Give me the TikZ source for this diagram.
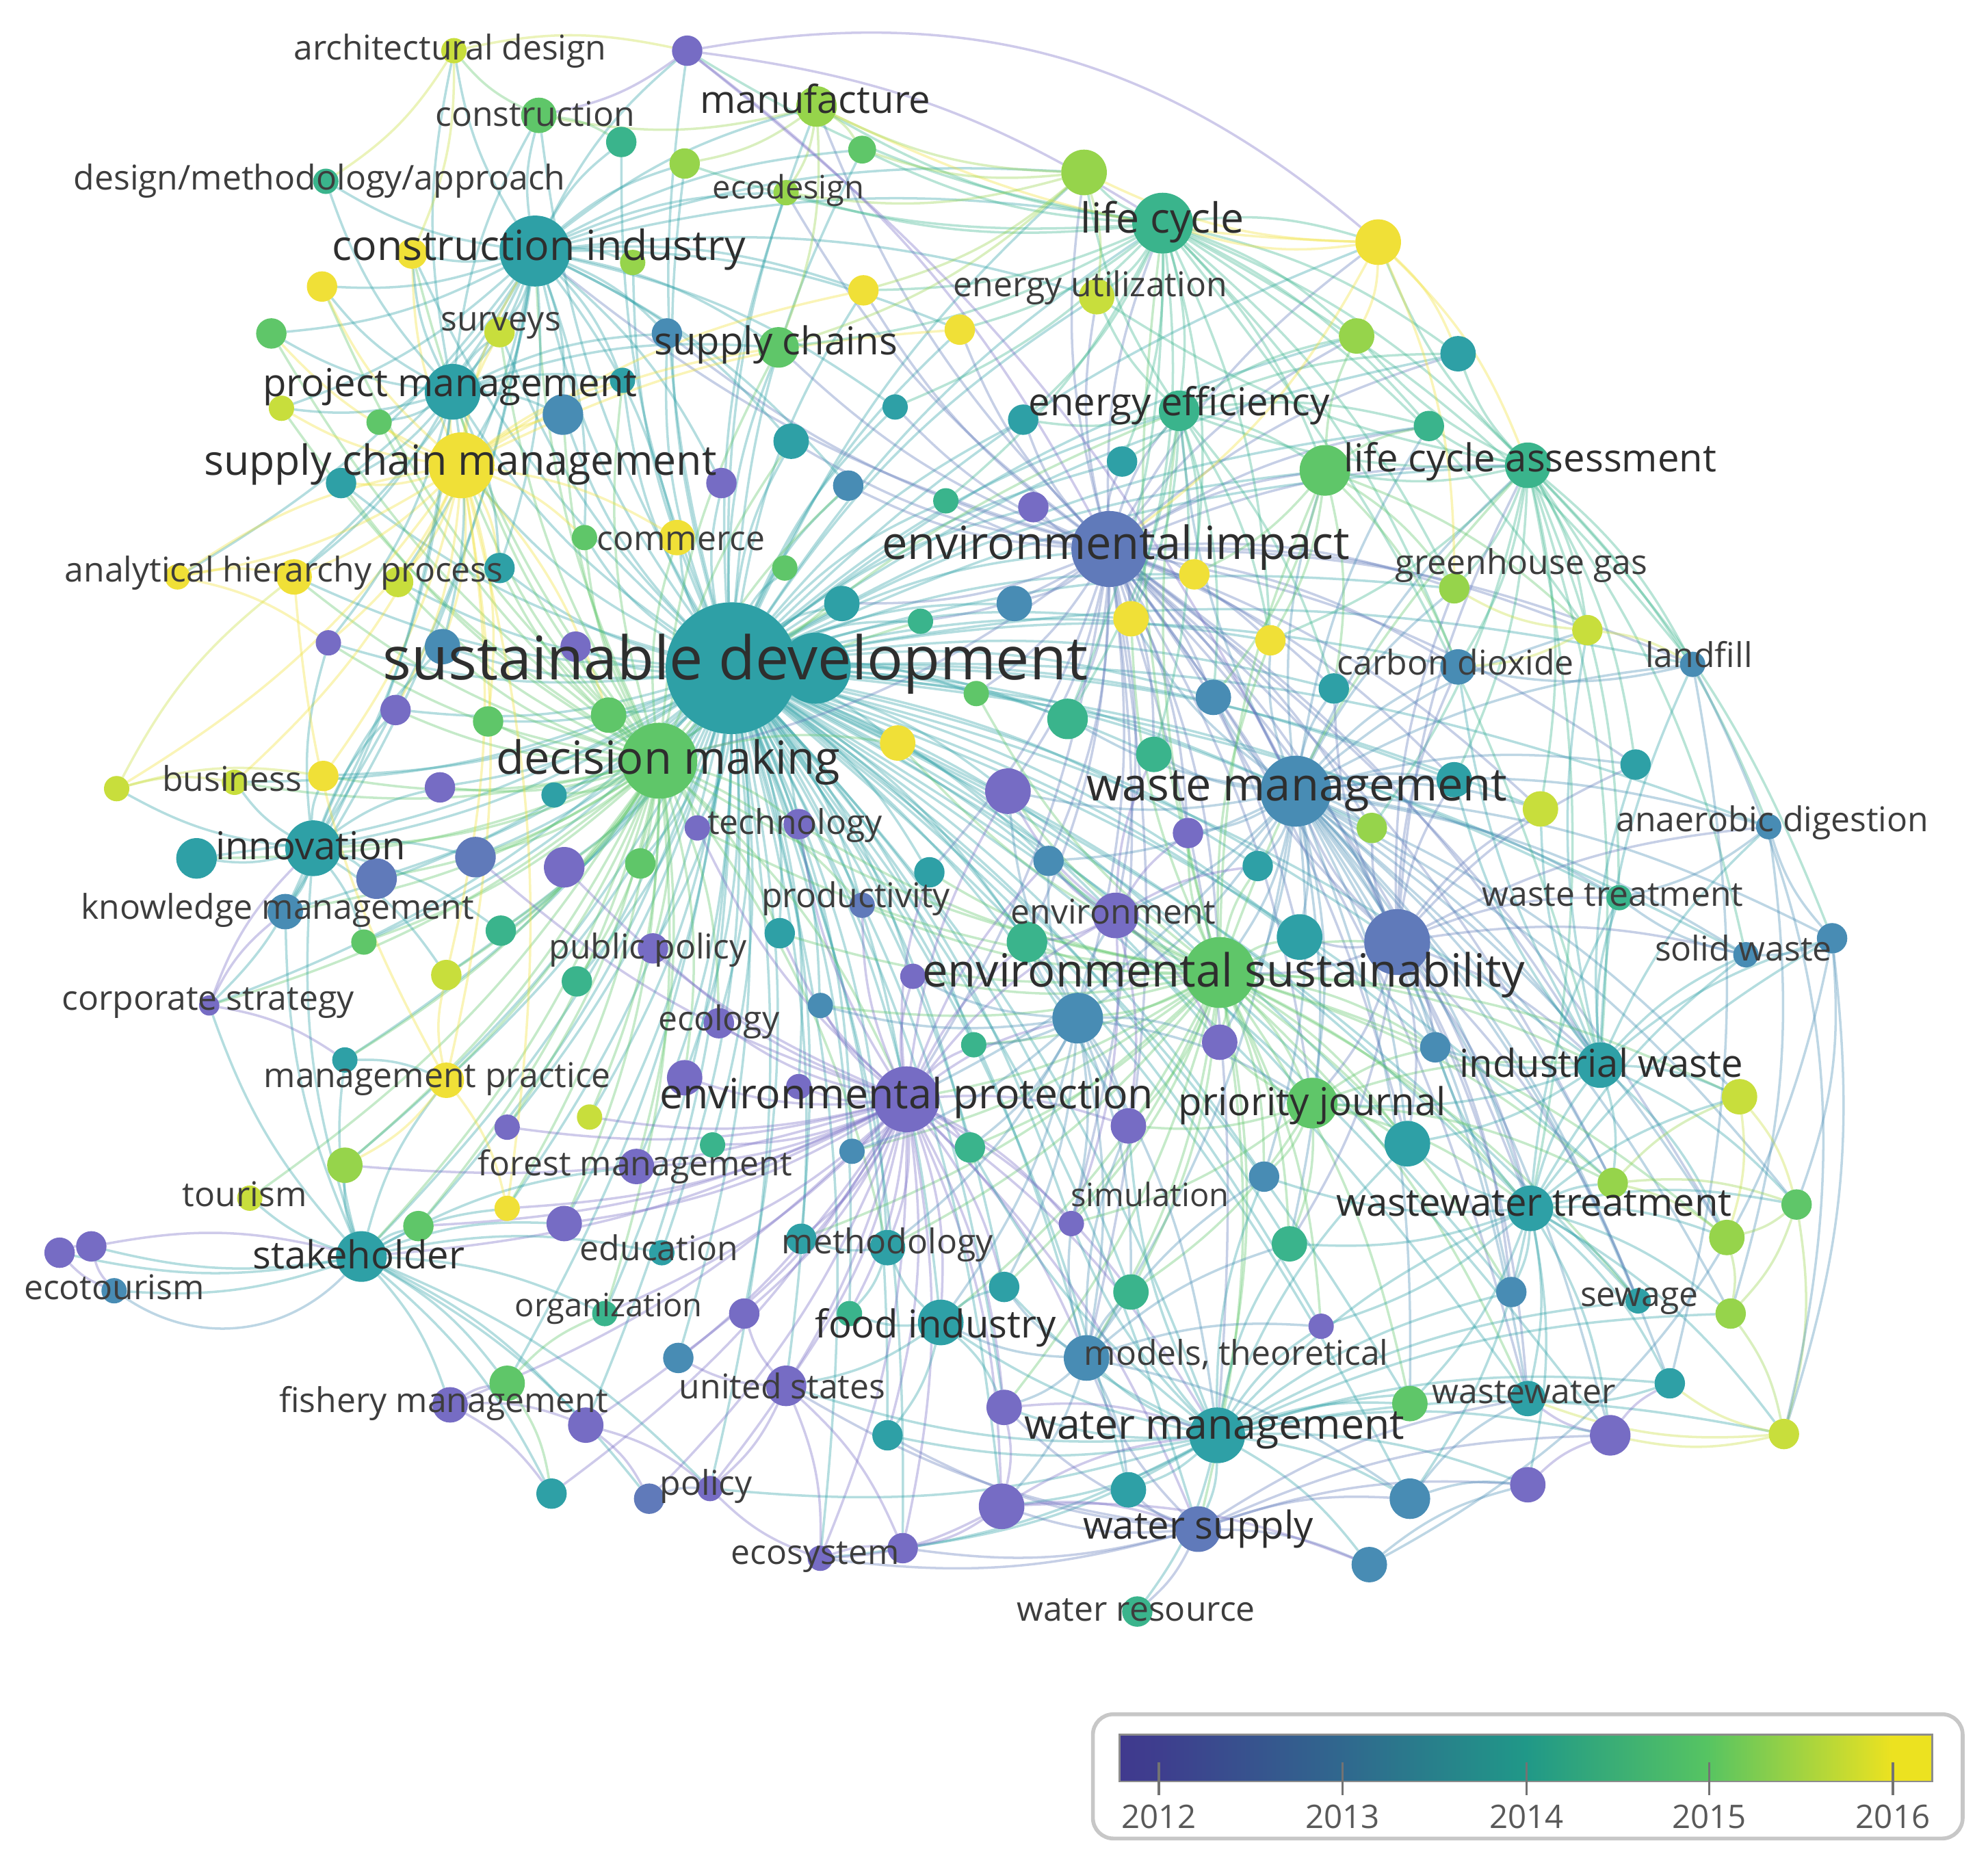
\documentclass[tikz,border=0pt]{standalone}
\usepackage{fontspec}
\setmainfont{Open Sans}
\pgfdeclarelayer{bg}
\pgfsetlayers{bg,main}
\definecolor{cA}{RGB}{118,108,196}
\definecolor{cB}{RGB}{96,122,186}
\definecolor{cC}{RGB}{72,140,180}
\definecolor{cD}{RGB}{46,160,166}
\definecolor{cE}{RGB}{58,180,140}
\definecolor{cF}{RGB}{95,198,105}
\definecolor{cG}{RGB}{150,212,75}
\definecolor{cH}{RGB}{200,222,60}
\definecolor{cI}{RGB}{240,224,55}
\definecolor{lg0}{RGB}{64,58,142}
\definecolor{lg1}{RGB}{62,62,142}
\definecolor{lg2}{RGB}{48,104,142}
\definecolor{lg3}{RGB}{32,152,136}
\definecolor{lg4}{RGB}{86,196,98}
\definecolor{lg5}{RGB}{236,226,32}
\pgfdeclarehorizontalshading{legbar}{100bp}{color(0bp)=(lg0); color(25bp)=(lg0); color(27.5bp)=(lg1); color(38.75bp)=(lg2); color(50bp)=(lg3); color(61.15bp)=(lg4); color(72.5bp)=(lg5); color(75bp)=(lg5); color(100bp)=(lg5)}
\newcommand\fsz[1]{\fontsize{#1}{#1}\selectfont}
\newcommand\kw[5]{\node[kwn,fill=#5,minimum size=#4*0.037066cm] (#1) at (#2,#3) {};}
\begin{document}
\begin{tikzpicture}[x=0.018533cm,y=-0.018533cm,
  kwn/.style={circle,inner sep=0pt,outer sep=0pt},
  ed/.style={draw=#1,line width=1pt,draw opacity=0.36},
  lab/.style={inner sep=0pt,text=black!82},
  lxl/.style={lab,font=\fsz{25pt}},
  ll/.style={lab,font=\fsz{19pt}},
  llm/.style={lab,font=\fsz{17.3pt}},
  lm/.style={lab,font=\fsz{16pt}},
  ls/.style={lab,font=\fsz{14.2pt},text=black!76},
  lss/.style={lab,font=\fsz{13.4pt},text=black!76},
  leg/.style={inner sep=0pt,text=black!65,font=\fsz{13.5pt}}]
\useasboundingbox (0,0) rectangle (1568,1472);
% ---------- keyword circles ----------
\kw{ad}{358}{40}{10}{cH}
\kw{p1}{542}{40}{12}{cA}
\kw{con}{425}{91}{14}{cF}
\kw{t1}{490}{112}{12}{cE}
\kw{l1}{540}{129}{12}{cG}
\kw{man}{644}{84}{16}{cG}
\kw{g1}{680}{118}{11}{cF}
\kw{eco}{620}{152}{10}{cG}
\kw{dma}{257}{143}{10}{cE}
\kw{ci}{422}{198}{28}{cD}
\kw{y1}{325}{200}{12}{cI}
\kw{y2}{254}{226}{12}{cI}
\kw{g2}{499}{207}{10}{cG}
\kw{y3}{681}{229}{12}{cI}
\kw{y4}{757}{260}{12}{cI}
\kw{g3}{214}{263}{12}{cF}
\kw{sur}{394}{262}{12}{cH}
\kw{b1}{526}{263}{12}{cC}
\kw{sc}{614}{274}{16}{cF}
\kw{pm}{357}{309}{22}{cD}
\kw{l2}{222}{322}{10}{cH}
\kw{g4}{299}{333}{10}{cF}
\kw{b2}{444}{327}{16}{cC}
\kw{t2}{491}{300}{10}{cD}
\kw{scm}{364}{367}{26}{cI}
\kw{t3}{269}{381}{12}{cD}
\kw{p2}{569}{381}{12}{cA}
\kw{com}{534}{424}{14}{cI}
\kw{g5}{461}{424}{10}{cF}
\kw{y5}{140}{455}{10}{cI}
\kw{ahp}{232}{455}{14}{cI}
\kw{l3}{314}{459}{12}{cH}
\kw{t4}{394}{448}{12}{cD}
\kw{t5}{624}{348}{14}{cD}
\kw{t6}{669}{383}{12}{cC}
\kw{t7}{706}{321}{10}{cD}
\kw{t8}{746}{395}{10}{cE}
\kw{g6}{619}{448}{10}{cF}
\kw{t9}{664}{476}{14}{cD}
\kw{t10}{726}{490}{10}{cE}
\kw{p3}{259}{507}{10}{cA}
\kw{b3}{349}{510}{14}{cC}
\kw{p4}{454}{510}{12}{cA}
\kw{sd2}{643}{527}{28}{cD}
\kw{sd}{577}{527}{52}{cD}
\kw{y6}{708}{586}{14}{cI}
\kw{l4}{855}{136}{18}{cG}
\kw{lc}{917}{176}{24}{cE}
\kw{eu}{865}{234}{14}{cH}
\kw{y7}{1087}{191}{18}{cI}
\kw{l5}{1070}{265}{14}{cG}
\kw{t11}{1150}{279}{14}{cD}
\kw{ee}{930}{324}{16}{cE}
\kw{t12}{807}{331}{12}{cD}
\kw{t13}{1127}{336}{12}{cE}
\kw{t14}{885}{364}{12}{cD}
\kw{g7}{1045}{371}{20}{cF}
\kw{lca}{1205}{367}{18}{cE}
\kw{p5}{815}{400}{12}{cA}
\kw{ei}{875}{433}{30}{cB}
\kw{y8}{942}{453}{12}{cI}
\kw{ghg}{1147}{464}{12}{cG}
\kw{t15}{800}{476}{14}{cC}
\kw{y9}{892}{488}{14}{cI}
\kw{y10}{1002}{505}{12}{cI}
\kw{l6}{1252}{497}{12}{cH}
\kw{cd}{1150}{526}{14}{cC}
\kw{lf}{1335}{524}{10}{cC}
\kw{p6}{312}{560}{12}{cA}
\kw{g8}{385}{569}{12}{cF}
\kw{g9}{480}{564}{14}{cF}
\kw{dm}{520}{600}{30}{cF}
\kw{l7}{92}{622}{10}{cH}
\kw{y11}{255}{612}{12}{cI}
\kw{bus}{185}{617}{10}{cH}
\kw{p7}{347}{621}{12}{cA}
\kw{t16}{437}{627}{10}{cD}
\kw{tec}{550}{653}{10}{cA}
\kw{p8}{630}{650}{12}{cA}
\kw{t17}{155}{677}{16}{cD}
\kw{inn}{247}{669}{22}{cD}
\kw{b4}{297}{693}{16}{cB}
\kw{b5}{375}{676}{16}{cB}
\kw{p9}{445}{684}{16}{cA}
\kw{g10}{505}{681}{12}{cF}
\kw{km}{225}{719}{14}{cC}
\kw{g11}{287}{743}{10}{cF}
\kw{g12}{395}{734}{12}{cE}
\kw{t18}{615}{736}{12}{cD}
\kw{b6}{680}{714}{10}{cB}
\kw{pp}{515}{748}{12}{cA}
\kw{l8}{352}{769}{12}{cH}
\kw{t19}{455}{774}{12}{cE}
\kw{cs}{165}{793}{8}{cA}
\kw{b7}{647}{793}{10}{cC}
\kw{p10}{720}{770}{10}{cA}
\kw{ecl}{567}{807}{12}{cA}
\kw{t20}{272}{836}{10}{cD}
\kw{mp}{352}{852}{14}{cI}
\kw{p11}{540}{850}{14}{cA}
\kw{ep}{715}{867}{26}{cA}
\kw{p12}{630}{857}{10}{cA}
\kw{p13}{400}{889}{10}{cA}
\kw{l9}{465}{881}{10}{cH}
\kw{t21}{562}{903}{10}{cE}
\kw{t22}{672}{908}{10}{cC}
\kw{g13}{765}{905}{12}{cE}
\kw{g14}{272}{919}{14}{cG}
\kw{fm}{502}{920}{14}{cA}
\kw{tou}{197}{945}{10}{cH}
\kw{y12}{400}{953}{10}{cI}
\kw{p14}{445}{965}{14}{cA}
\kw{g15}{330}{967}{12}{cF}
\kw{sh}{285}{991}{20}{cD}
\kw{p15}{47}{988}{12}{cA}
\kw{p16}{72}{983}{12}{cA}
\kw{et}{90}{1018}{10}{cC}
\kw{edu}{522}{988}{10}{cD}
\kw{t23}{632}{977}{12}{cD}
\kw{meth}{700}{984}{14}{cD}
\kw{org}{477}{1036}{10}{cE}
\kw{p17}{587}{1036}{12}{cA}
\kw{g16}{670}{1036}{10}{cE}
\kw{fi}{742}{1043}{18}{cD}
\kw{b8}{957}{550}{14}{cC}
\kw{t24}{1052}{543}{12}{cD}
\kw{g17}{842}{567}{16}{cE}
\kw{g18}{910}{595}{14}{cE}
\kw{wm}{1022}{624}{28}{cC}
\kw{t25}{1147}{615}{14}{cD}
\kw{t26}{1290}{603}{12}{cD}
\kw{p18}{795}{624}{18}{cA}
\kw{l10}{1215}{638}{14}{cH}
\kw{g19}{1082}{653}{12}{cG}
\kw{ad2}{1395}{652}{10}{cC}
\kw{p19}{937}{657}{12}{cA}
\kw{b9}{827}{679}{12}{cC}
\kw{t27}{992}{683}{12}{cD}
\kw{wt}{1277}{708}{10}{cE}
\kw{env}{880}{722}{18}{cA}
\kw{g20}{810}{743}{16}{cE}
\kw{t28}{1025}{739}{18}{cD}
\kw{b10}{1102}{743}{26}{cB}
\kw{es}{962}{767}{28}{cF}
\kw{b11}{1445}{740}{12}{cC}
\kw{sw}{1377}{753}{10}{cC}
\kw{b12}{850}{803}{20}{cC}
\kw{p20}{962}{822}{14}{cA}
\kw{b13}{1132}{826}{12}{cC}
\kw{iw}{1262}{840}{18}{cD}
\kw{l11}{1372}{865}{14}{cH}
\kw{pj}{1035}{870}{20}{cF}
\kw{p21}{890}{888}{14}{cA}
\kw{t29}{1110}{902}{18}{cD}
\kw{b14}{997}{928}{12}{cC}
\kw{sim}{845}{965}{10}{cA}
\kw{wwt}{1207}{953}{18}{cD}
\kw{l12}{1272}{933}{12}{cG}
\kw{g21}{1417}{950}{12}{cF}
\kw{g22}{1362}{976}{14}{cG}
\kw{g23}{1017}{981}{14}{cE}
\kw{g24}{892}{1019}{14}{cE}
\kw{t30}{792}{1015}{12}{cD}
\kw{b15}{1192}{1019}{12}{cC}
\kw{sew}{1292}{1026}{10}{cD}
\kw{l13}{1365}{1036}{12}{cG}
\kw{p22}{1042}{1046}{10}{cA}
\kw{mt}{857}{1071}{18}{cC}
\kw{t31}{1317}{1091}{12}{cD}
\kw{g25}{1112}{1107}{14}{cF}
\kw{ww}{1205}{1103}{14}{cD}
\kw{p23}{792}{1110}{14}{cA}
\kw{wmg}{960}{1132}{22}{cD}
\kw{l14}{1407}{1131}{12}{cH}
\kw{p24}{1270}{1132}{16}{cA}
\kw{t32}{890}{1175}{14}{cD}
\kw{p25}{1205}{1171}{14}{cA}
\kw{b16}{1112}{1182}{16}{cC}
\kw{p26}{790}{1188}{18}{cA}
\kw{ws}{945}{1206}{18}{cB}
\kw{b17}{1080}{1234}{14}{cC}
\kw{wr}{897}{1271}{12}{cE}
\kw{b18}{535}{1071}{12}{cC}
\kw{us}{620}{1093}{16}{cA}
\kw{fsm}{355}{1108}{14}{cA}
\kw{g26}{400}{1091}{14}{cF}
\kw{p27}{462}{1124}{14}{cA}
\kw{t33}{700}{1132}{12}{cD}
\kw{t34}{435}{1178}{12}{cD}
\kw{b19}{512}{1182}{12}{cB}
\kw{pol}{560}{1174}{10}{cA}
\kw{esy}{647}{1229}{10}{cA}
\kw{p28}{712}{1221}{12}{cA}
\kw{g27}{770}{547}{10}{cF}
\kw{t35}{733}{688}{12}{cD}
\kw{g28}{768}{824}{10}{cE}
% ---------- links ----------
\begin{pgfonlayer}{bg}
\foreach \t in {ci,pm,scm,con,man,sc,lc,ee,ei,dm,inn,km,pp,ecl,ep,fm,sh,edu,meth,fi,wm,es,env,pj,iw,wwt,mt,wmg,ws,us,t5,t6,t7,t8,t9,t10,b2,t2,p2,com,g5,t4,b3,p4,p3,p6,g8,g9,y6,p8,tec,b5,p9,g10,t18,b6,b7,p10,p11,p12,t21,t22,g13,p14,t23,p17,g16,b8,t24,g17,g18,p18,b9,g20,b12,p21,lca,cd,y9,y10,t15,p5,t14,t12,y3,y4,b1,eu,l4,eco,g7,t25,l10,g19,t27,t28,b10,p20,t29,b14,g23,g24,t30,p22,p23,p26,t32,sim,g27,t35,g28,mp,l8,t19,g12,b4,t16,ahp,l3,t3,sur,p1,y8,ghg,t13,t11,l5,y7,g1,t1,l1,g2,y1,bus,y11,p7,t17,g11,cs,t20,l9,p13,g14,g15,y12,org,b18,p27,g26,t33,pol,esy,p28,b16,p24,b13,lf,wt,ad2,sw,l12,sew,b15,g25,ww,g6}
  {\draw[ed=cD] (sd) to[bend left=11] (\t);}
\foreach \t in {lc,ee,eu,l4,y7,l5,t11,t12,t13,t14,g7,lca,p5,y8,ghg,t15,y9,y10,l6,cd,lf,wm,es,b10,t28,env,pj,iw,g17,g18,b8,t24,man,eco,sc,y4,y3,t7,dm,ep,wmg,t29,g19,l10,t25,t26,p19,b9,b12,g20,mt,wwt,ww,sim,l12,g22,t8,t10,t9,g27,t35,p18,b1,t5,t6,ci}
  {\draw[ed=cB] (ei) to[bend left=11] (\t);}
\foreach \t in {cd,lf,ad2,wt,sw,b11,t26,l10,t25,g19,iw,b10,t28,es,pj,t29,b13,l11,wwt,sew,l6,ghg,lca,t24,b8,p19,t27,g18,ee,g7,ep,env,b12,p20,ww,g25,mt,b14,l12,g21,g22,l13,b15,t31,p24,g23,g17,p18,b9,y10,y9,t13}
  {\draw[ed=cC] (wm) to[bend left=11] (\t);}
\foreach \t in {env,g20,b12,p20,pj,t29,iw,b13,wwt,g23,g24,mt,wmg,ws,p21,sim,ep,t22,g13,g28,p10,b7,t18,b6,t35,tec,p8,dm,y6,g27,t27,p19,b9,b10,t28,lca,g7,lc,ee,l12,g22,b15,sew,ww,g25,p22,t30,p23,fi,meth,t23,l11,p18,b14,y10,y9}
  {\draw[ed=cF] (es) to[bend left=11] (\t);}
\foreach \t in {ci,pm,scm,ahp,l3,t4,b3,p4,p3,p6,g8,g9,y11,bus,p7,t16,inn,b4,b5,p9,g10,km,g11,g12,pp,l8,t19,mp,t20,p11,ecl,fm,l9,p13,tou,g14,sh,g15,p14,y12,com,g5,t3,sur,l2,g4,b2,t2,sc,y1,y2,g3,ee,ep,y6,t9,t10,meth,org,tec,p8,t18,b6,t17,cs,t5,t6}
  {\draw[ed=cF] (dm) to[bend left=11] (\t);}
\foreach \t in {ad,con,t1,l1,dma,y1,y2,g2,g3,sur,b1,pm,l2,g4,b2,t2,scm,t3,p2,com,g5,man,eco,p1,g1,sc,y3,t5,t6,y5,ahp,l3,t4,inn,km,t7,y4,eu,lc,l4}
  {\draw[ed=cD] (ci) to[bend left=11] (\t);}
\foreach \t in {ahp,y5,l3,t3,t4,g5,com,y2,y1,sur,pm,b2,sc,y11,bus,l7,g4,l2,g3,p3,b3,y3,y4,g9,g8,p6,mp,y12,l8,t2,ci}
  {\draw[ed=cI] (scm) to[bend left=11] (\t);}
\foreach \t in {ad,con,dma,g3,l2,g4,t3,sur,b2,t2,y2,y1,ahp,inn,km,t4,b3,p3,sc,b1}
  {\draw[ed=cD] (pm) to[bend left=11] (\t);}
\foreach \t in {l4,eu,y7,l5,t11,ee,t12,t13,t14,g7,lca,man,eco,g1,l1,y3,y4,sc,p1,t7,y10,ghg,cd,lf,iw,t8,y8,y9,l6,g17}
  {\draw[ed=cE] (lc) to[bend left=11] (\t);}
\foreach \t in {l5,t11,y7,t13,g7,ghg,l6,cd,lf,t26,ad2,wt,b11,sw,iw,ee,eu,y10,l10,t25,g19,wwt}
  {\draw[ed=cE] (lca) to[bend left=11] (\t);}
\foreach \t in {p11,p12,ecl,pp,fm,p13,p14,edu,t21,t22,g13,t23,meth,p17,g16,fi,us,b18,pol,esy,p28,t33,p23,p26,t30,sim,mt,wmg,ws,b12,p21,g24,p10,b7,p8,tec,t18,b6,t35,p18,b9,env,g20,g28,p27,org,fsm,b19,t34,sh,g14,g15,p9,b5,y12,l9}
  {\draw[ed=cA] (ep) to[bend left=11] (\t);}
\foreach \t in {ws,wr,t32,p26,p23,b16,b17,p25,p24,t31,ww,g25,l14,mt,g24,t30,p22,b15,sew,l13,g23,b14,wwt,fi,us,t33,p28,esy,pol,sim,t29,p21,g13}
  {\draw[ed=cD] (wmg) to[bend left=11] (\t);}
\foreach \t in {wr,t32,p26,b16,b17,p25,p24,ww,p28,esy,us,mt,t33,p23}
  {\draw[ed=cB] (ws) to[bend left=11] (\t);}
\foreach \t in {l12,g21,g22,sew,l13,t31,ww,b15,g25,p24,l14,iw,l11,b13,t29,g23,p25,b16,wt,sw,b11,p22,b14}
  {\draw[ed=cD] (wwt) to[bend left=11] (\t);}
\foreach \t in {l11,b13,t29,l12,g21,wt,sw,b11,ad2,t26,l6,cd,lf,g22,pj,t25,l10}
  {\draw[ed=cD] (iw) to[bend left=11] (\t);}
\foreach \t in {p15,p16,et,tou,g14,g15,y12,p14,fm,t34,fsm,g26,org,edu,p27,b19,pol,mp,t20,cs,km,inn}
  {\draw[ed=cD] (sh) to[bend left=11] (\t);}
\foreach \t in {t17,km,b4,b5,bus,l7,y11,p7,g11,cs,p6,p3,b3,g12,l8}
  {\draw[ed=cD] (inn) to[bend left=11] (\t);}
\foreach \t in {sim,g24,t30,p21,p22,b14,g23,t32,p23,p26,fi,b16}
  {\draw[ed=cC] (mt) to[bend left=11] (\t);}
\foreach \t in {t29,b14,g23,p21,p20,sim,g24,b13,wwt,l12,iw}
  {\draw[ed=cF] (pj) to[bend left=11] (\t);}
\foreach \t in {wm,es,t28,iw,b13,t29,pj,wwt,t25,l10,g19,t26,wt,sw,ad2,cd,lca,ghg,t24,b8,g23,b15,sew,ww}
  {\draw[ed=cB] (b10) to[bend left=11] (\t);}
\foreach \t in {env,g20,p20,pj,p21,sim,t22,g13,g28,b7,p10,mt,t30,g24,wmg,fi,meth,b9,p18}
  {\draw[ed=cC] (b12) to[bend left=11] (\t);}
\foreach \t in {l4,eu,t12,t14,g7,t13,l5,t11,y8,y9,y10,g17,b8,t24,g18}
  {\draw[ed=cE] (ee) to[bend left=11] (\t);}
\foreach \t in {l5,t13,y10,ghg,cd,l6,t24,y8,b8}
  {\draw[ed=cF] (g7) to[bend left=11] (\t);}
\foreach \t in {p18,b9,p19,g18,g20,p20,p21,sim,t27}
  {\draw[ed=cA] (env) to[bend left=11] (\t);}
\foreach \a/\b/\c in {et/p15/cA,et/p16/cA,p15/p16/cA,p16/sh/cA,
  l7/bus/cH,l7/y11/cH,l7/ahp/cH,y5/ahp/cI,y5/p3/cI,y5/scm/cI,
  cs/km/cA,cs/inn/cA,cs/t20/cA,t20/mp/cD,mp/y12/cI,mp/l8/cI,mp/g14/cI,mp/ahp/cI,
  y7/lca/cI,y7/lc/cI,y7/l4/cI,y7/ei/cI,y7/l5/cI,y7/man/cI,y7/t11/cI,y7/ghg/cI,
  l4/man/cG,l4/eco/cG,l4/y3/cG,l4/eu/cG,l4/g1/cG,l4/sc/cG,
  man/eco/cG,man/l1/cG,man/g1/cG,man/sc/cG,man/con/cG,con/ad/cF,con/t1/cF,ad/dma/cH,ad/p1/cH,ad/y1/cH,
  p1/con/cA,p1/ei/cA,p1/lc/cA,p1/wm/cA,
  l6/ghg/cH,l6/cd/cH,l6/lf/cH,
  b11/sw/cC,b11/ad2/cC,b11/l14/cC,b11/g21/cC,lf/cd/cC,lf/t31/cC,ad2/l13/cC,ad2/wt/cC,sw/wt/cC,
  l11/g21/cH,l11/g22/cH,g21/g22/cG,g21/l13/cG,g22/l13/cG,l13/l14/cG,g21/l14/cG,l12/g21/cG,l12/g22/cG,l12/l11/cG,l14/t31/cH,l14/p24/cH,l14/ww/cH,
  us/b18/cA,us/pol/cA,us/esy/cA,us/p28/cA,us/p17/cA,fsm/g26/cA,fsm/p27/cA,fsm/t34/cA,g26/t34/cF,g26/org/cF,p27/pol/cA,p27/b19/cA,b19/pol/cB,esy/p28/cA,esy/pol/cA,
  p26/esy/cA,p26/p28/cA,p26/ws/cA,p26/wmg/cA,p23/wmg/cA,p23/p26/cA,p26/b17/cA,
  b17/p25/cC,b16/p25/cC,p25/p24/cA,p24/ww/cA,p24/t31/cA,t31/ww/cD,b16/ww/cC,
  fi/meth/cD,fi/t33/cD,fi/us/cD,fi/p23/cD,fi/t30/cD,fi/g16/cD,meth/t23/cD,meth/g16/cD}
  {\draw[ed=\c] (\a) to[bend left=12] (\b);}
\draw[ed=cC] (et) to[bend right=40] (sh);
\draw[ed=cA] (p1) to[bend left=25] (y7);
\draw[ed=cC] (lf) to[bend left=20] (l14);
\draw[ed=cC] (b11) to[bend left=25] (b17);
\end{pgfonlayer}
% ---------- labels ----------
\node[ls] (Tad) at (355,40) {architectural design};
\node[ls] (Tcon) at (422,90) {construction};
\node[lm] (Tman) at (643,78) {manufacture};
\node[ls] (Tdma) at (252,143) {design/methodology/approach};
\node[lss] (Teco) at (622,150) {ecodesign};
\node[llm] (Tci) at (425,197) {construction industry};
\node[llm] (Tlc) at (917,175) {life cycle};
\node[ls] (Teu) at (860,227) {energy utilization};
\node[ls] (Tsur) at (395,257) {surveys};
\node[lm] (Tsc) at (612,272) {supply chains};
\node[lm] (Tpm) at (355,305) {project management};
\node[lm] (Tee) at (930,320) {energy efficiency};
\node[llm] (Tscm) at (363,366) {supply chain management};
\node[lm] (Tlca) at (1207,364) {life cycle assessment};
\node[ls] (Tcom) at (537,427) {commerce};
\node[ll] (Tei) at (880,432) {environmental impact};
\node[ls] (Tghg) at (1200,446) {greenhouse gas};
\node[ls] (Tahp) at (224,452) {analytical hierarchy process};
\node[lxl] (Tsd) at (580,524) {sustainable development};
\node[ls] (Tcd) at (1148,522) {carbon dioxide};
\node[ls] (Tlf) at (1340,516) {landfill};
\node[ll] (Tdm) at (527,601) {decision making};
\node[ls] (Tbus) at (183,614) {business};
\node[ll] (Twm) at (1023,624) {waste management};
\node[ls] (Ttec) at (627,651) {technology};
\node[ls] (Tad2) at (1398,649) {anaerobic digestion};
\node[lm] (Tinn) at (245,667) {innovation};
\node[ls] (Tprod) at (675,709) {productivity};
\node[ls] (Twt) at (1272,706) {waste treatment};
\node[ls] (Tkm) at (219,718) {knowledge management};
\node[ls] (Tenv) at (878,719) {environment};
\node[ls] (Tpp) at (511,749) {public policy};
\node[ll] (Tes) at (965,769) {environmental sustainability};
\node[ls] (Tsw) at (1375,748) {solid waste};
\node[ls] (Tcs) at (164,791) {corporate strategy};
\node[ls] (Tecl) at (567,806) {ecology};
\node[lm] (Tiw) at (1263,838) {industrial waste};
\node[ls] (Tmp) at (345,851) {management practice};
\node[llm] (Tep) at (715,866) {environmental protection};
\node[lm] (Tpj) at (1035,872) {priority journal};
\node[ls] (Tfm) at (501,920) {forest management};
\node[ls] (Ttou) at (193,942) {tourism};
\node[lss] (Tsim) at (907,942) {simulation};
\node[lm] (Twwt) at (1210,949) {wastewater treatment};
\node[lm] (Tsh) at (283,989) {stakeholder};
\node[ls] (Tedu) at (520,984) {education};
\node[ls] (Tmeth) at (700,982) {methodology};
\node[ls] (Tet) at (90,1015) {ecotourism};
\node[lss] (Torg) at (480,1032) {organization};
\node[ls] (Tsew) at (1293,1026) {sewage};
\node[lm] (Tfi) at (738,1047) {food industry};
\node[ls] (Tmt) at (975,1068) {models, theoretical};
\node[ls] (Tus) at (617,1093) {united states};
\node[ls] (Tww) at (1202,1098) {wastewater};
\node[ls] (Tfsm) at (350,1107) {fishery management};
\node[llm] (Twmg) at (958,1128) {water management};
\node[ls] (Tpol) at (557,1172) {policy};
\node[lm] (Tws) at (945,1206) {water supply};
\node[ls] (Tesy) at (643,1228) {ecosystem};
\node[ls] (Twr) at (896,1270) {water resource};
% ---------- legend ----------
\draw[draw=black!22,line width=1.6pt,fill=white,rounded corners=0.3cm] (862,1352) rectangle (1548,1450);
\shadedraw[shading=legbar,draw=black!45,line width=0.8pt] (883,1368) rectangle (1524,1405);
\foreach \x/\yr in {914/2012,1059/2013,1204/2014,1348/2015,1493/2016}{
  \draw[black!55,line width=1pt] (\x,1390) -- (\x,1416);
  \node[leg] (yr\yr) at (\x,1433) {\yr};}
\end{tikzpicture}
\end{document}
